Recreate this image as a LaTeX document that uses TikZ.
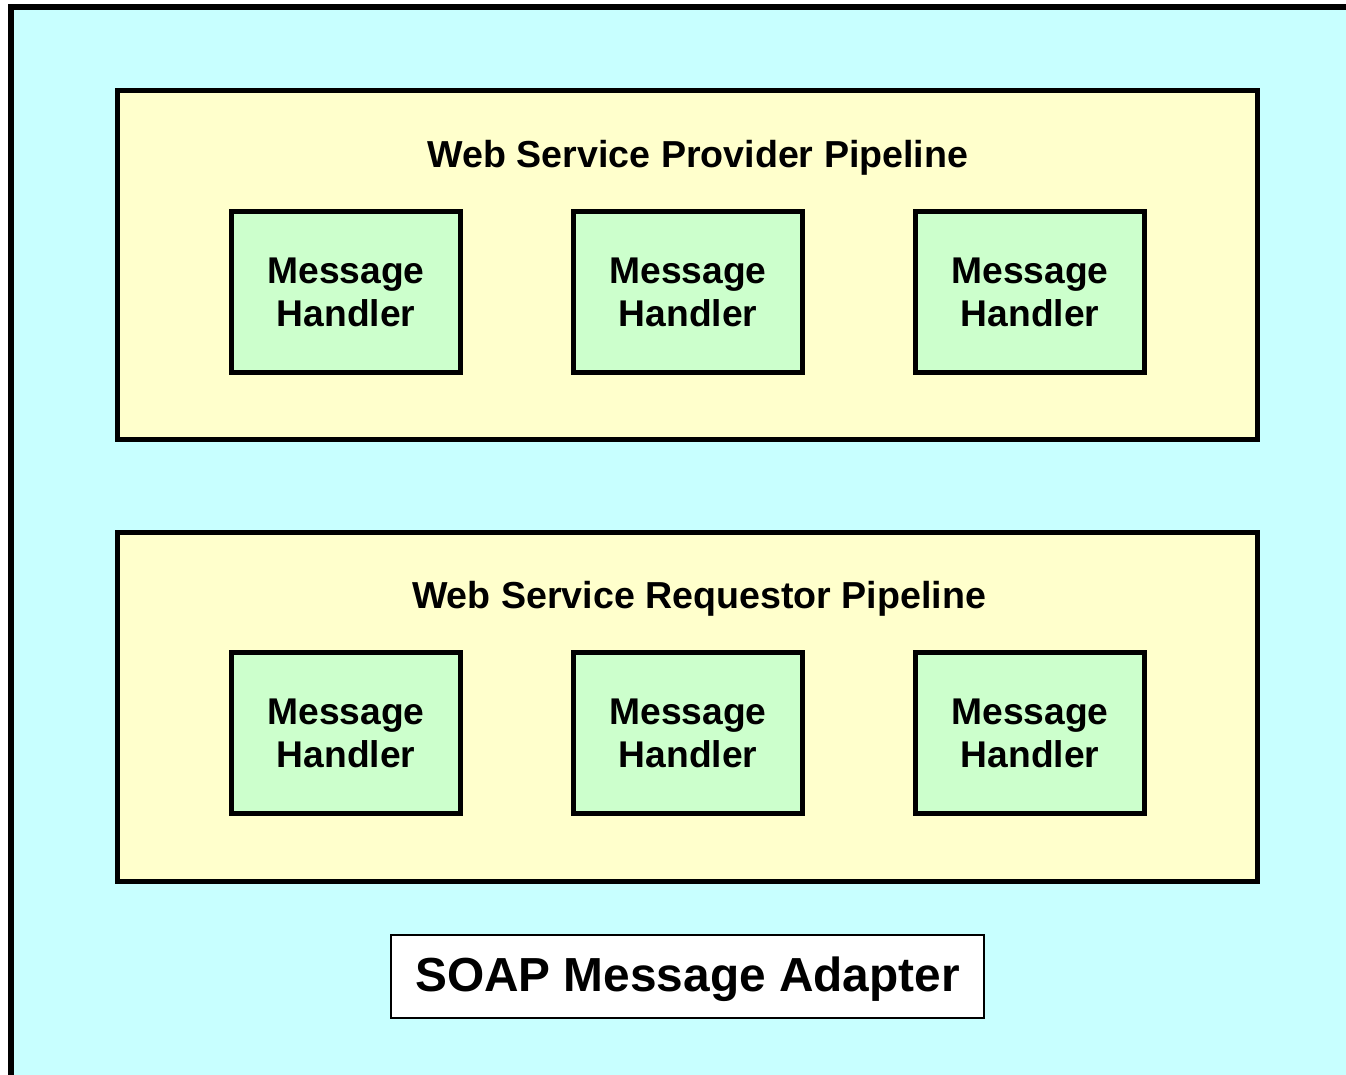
\documentclass[tikz,border=0pt]{standalone}
\usepackage{fontspec}
\setmainfont{Liberation Sans}
\definecolor{bgcyan}{HTML}{C8FFFF}
\definecolor{pipeyellow}{HTML}{FFFFCC}
\definecolor{handlergreen}{HTML}{CCFFCC}
\begin{document}
\begin{tikzpicture}[x=0.5pt,y=-0.5pt,
  pipebox/.style={draw=black, line width=2.5pt, fill=pipeyellow, inner sep=0pt,
    minimum width=570pt, minimum height=174.5pt},
  handler/.style={draw=black, line width=2.5pt, fill=handlergreen, inner sep=0pt,
    minimum width=114.5pt, minimum height=80.5pt, align=center,
    font=\fontsize{18.6pt}{21.5pt}\selectfont\bfseries},
  pipetitle/.style={inner sep=0pt, font=\fontsize{18.8pt}{21.5pt}\selectfont\bfseries},
  adapter/.style={draw=black, line width=1pt, fill=white, inner sep=0pt,
    minimum width=296.5pt, minimum height=41.5pt,
    font=\fontsize{23.9pt}{27pt}\selectfont\bfseries}]
  \useasboundingbox (0,0) rectangle (1346,1075);
  % outer container, open to the right and bottom
  \fill[bgcyan] (11,7) rectangle (1346,1075);
  \draw[line width=3pt] (11,1075) -- (11,7) -- (1346,7);

  % provider pipeline
  \node[pipebox] (provider) at (687.75,265.5) {};
  \node[pipetitle] (providertitle) at (698,158) {Web Service Provider Pipeline};
  \node[handler] (p1) at (346,292.5) {Message\\Handler};
  \node[handler] (p2) at (688,292.5) {Message\\Handler};
  \node[handler] (p3) at (1030,292.5) {Message\\Handler};

  % requestor pipeline
  \node[pipebox] (requestor) at (687.75,707) {};
  \node[pipetitle] (requestortitle) at (699,599) {Web Service Requestor Pipeline};
  \node[handler] (r1) at (346,733) {Message\\Handler};
  \node[handler] (r2) at (688,733) {Message\\Handler};
  \node[handler] (r3) at (1030,733) {Message\\Handler};

  % adapter label
  \node[adapter] (soap) at (687.5,976.5) {};
  \node[inner sep=0pt, font=\fontsize{23.9pt}{27pt}\selectfont\bfseries] (soaplabel) at (687.5,979) {SOAP Message Adapter};
\end{tikzpicture}
\end{document}
